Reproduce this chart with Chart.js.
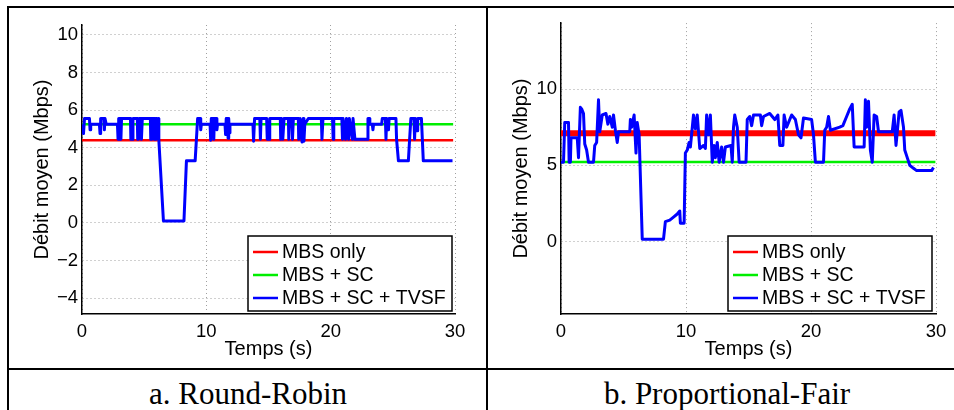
<!DOCTYPE html>
<html>
<head>
<meta charset="utf-8">
<script src="https://cdn.jsdelivr.net/npm/chart.js@4/dist/chart.umd.min.js"></script>
<style>
  html, body { margin: 0; padding: 0; background: #fff; overflow: hidden; }
  body { width: 954px; height: 410px; position: relative; }
  .rule { position: absolute; background: #000; }
  .box { position: absolute; }
  .cap { position: absolute; top: 376px; height: 31px; line-height: 31px; font: 31px "Liberation Serif", serif; color: #000; white-space: nowrap; text-align: center; }
</style>
</head>
<body>
<div class="rule" style="left:7px;top:6px;width:947px;height:2px"></div>
<div class="rule" style="left:7px;top:6px;width:2px;height:404px"></div>
<div class="rule" style="left:486px;top:6px;width:2px;height:404px"></div>
<div class="rule" style="left:7px;top:368px;width:947px;height:2px"></div>

<div class="box" style="left:9px;top:8px;width:476px;height:359px"><canvas id="rrChart"></canvas></div>
<div class="box" style="left:488px;top:8px;width:466px;height:359px"><canvas id="pfChart"></canvas></div>

<div class="cap" style="left:48px;width:400px">a. Round-Robin</div>
<div class="cap" style="left:527px;width:400px">b. Proportional-Fair</div>

<script>
// légendes et niveaux constants
const seriesLabels = ["MBS only", "MBS + SC", "MBS + SC + TVSF"];
const seriesColors = ["#ff0000", "#00ee00", "#0000ff"];

// a. Round-Robin
const rrFlatTime = [0, 29.85];
const rrMbsOnly = [4.4, 4.4];
const rrMbsSc = [5.25, 5.25];
const rrTime = [0, 0.08, 0.12, 0.2, 0.6, 0.65, 0.7, 1.4, 1.45, 1.5, 1.75, 1.8, 1.85, 1.9, 1.95,
  2.85, 2.9, 2.95, 3.1, 3.13, 3.18, 3.9, 3.93, 4.05, 4.1, 4.45, 4.48, 4.55, 4.6, 4.75, 4.78, 4.85,
  5.5, 5.53, 5.57, 5.62, 5.67, 5.8, 5.83, 5.88, 5.95, 6.0, 6.05, 6.12, 6.18, 6.55, 8.2, 8.4, 9.1,
  9.3, 9.5, 9.55, 9.6, 10.3, 10.35, 10.4, 10.55, 10.6, 10.65, 10.8, 10.85, 10.9, 11.5, 11.55, 11.6,
  11.65, 11.7, 11.75, 11.8, 11.85, 11.9, 13.75, 13.8, 13.88, 14.3, 14.35, 14.4, 14.85, 14.9, 15.05,
  15.1, 15.95, 15.98, 16.05, 16.15, 16.25, 16.6, 16.63, 16.7, 16.9, 16.93, 17.0, 17.4, 17.43, 17.55,
  17.7, 17.8, 17.85, 17.92, 18.2, 19.25, 19.3, 19.38, 20.15, 20.2, 20.25, 20.9, 20.95, 21.0, 21.2,
  21.27, 21.45, 21.5, 21.75, 21.8, 21.95, 22.95, 23.0, 23.1, 23.15, 23.35, 23.4, 23.45, 24.1, 24.15,
  24.4, 24.45, 24.5, 24.65, 24.7, 25.25, 25.3, 25.45, 26.25, 26.35, 26.45, 26.7, 26.75, 26.8, 26.95,
  27.0, 27.3, 27.45, 29.8];
const rrTvsf = [5.25, 5.25, 4.75, 5.55, 5.55, 4.95, 5.25, 5.25, 4.75, 5.55, 5.55, 4.95, 5.55, 5.55, 5.25,
  5.25, 4.45, 5.55, 5.55, 4.45, 5.55, 5.55, 4.45, 4.45, 5.55, 5.55, 4.45, 4.45, 5.55, 5.55, 4.45, 5.55,
  5.55, 4.45, 5.55, 4.45, 5.55, 5.55, 4.45, 5.55, 4.45, 5.55, 4.5, 5.55, 4.4, 0.1, 0.1, 3.3, 3.3,
  5.55, 5.55, 4.95, 5.25, 5.25, 4.4, 5.55, 5.55, 4.45, 5.55, 5.55, 4.95, 5.25, 5.25, 4.7, 5.55,
  4.7, 5.55, 4.5, 5.55, 4.8, 5.25, 5.25, 4.35, 5.55, 5.55, 4.45, 5.55, 5.55, 4.45, 4.45,
  5.55, 5.55, 4.45, 5.55, 4.45, 5.55, 5.55, 4.45, 5.55, 5.55, 4.45, 5.55, 5.55, 4.45, 5.55,
  4.3, 5.55, 4.35, 5.25, 5.55, 5.55, 4.45, 5.55, 5.55, 4.45, 5.55, 5.55, 4.45, 5.55, 4.45,
  5.55, 4.45, 5.55, 4.45, 5.55, 4.45, 4.45, 5.55, 5.55, 5.25, 5.25, 4.95, 5.25, 5.25, 5.55,
  5.55, 4.45, 5.55, 4.95, 5.55, 5.55, 4.45, 3.3, 3.3, 4.45, 5.55, 5.55, 4.45, 5.55, 4.9,
  5.55, 5.55, 3.3, 3.3];

// b. Proportional-Fair
const pfFlatTime = [0, 29.95];
const pfMbsOnly = [7.1, 7.1];
const pfMbsSc = [5.22, 5.22];
const pfTime = [0, 0.2, 0.3, 0.6, 0.65, 0.75, 0.8, 1.3, 1.4, 1.55, 1.65, 1.8, 1.9, 2.05, 2.2, 2.6,
  2.7, 2.85, 3.0, 3.1, 3.3, 3.6, 3.75, 3.9, 4.1, 4.2, 4.35, 4.5, 4.6, 5.5, 5.55, 5.65, 5.85, 6.0,
  6.1, 6.25, 6.5, 8.2, 8.35, 8.7, 9.0, 9.3, 9.5, 9.55, 9.85, 9.95, 10.1, 10.25, 10.35, 10.6, 10.75,
  10.9, 11.1, 11.4, 11.55, 11.65, 11.8, 11.95, 12.1, 12.25, 12.35, 12.5, 12.65, 12.85, 13.0, 13.15,
  13.6, 13.7, 13.8, 13.9, 14.1, 14.25, 14.8, 14.9, 15.1, 15.25, 15.4, 15.95, 16.05, 16.2, 16.7, 17.1,
  17.35, 17.5, 17.75, 17.85, 18.05, 18.45, 18.75, 19.0, 19.2, 19.4, 20.05, 20.2, 20.35, 21.0, 21.1,
  21.25, 21.4, 21.55, 22.3, 22.55, 22.85, 23.1, 23.3, 23.45, 24.25, 24.35, 24.45, 24.6, 24.75, 24.9,
  25.05, 25.25, 25.4, 26.5, 26.65, 26.8, 27.05, 27.2, 27.4, 27.5, 27.7, 27.9, 28.2, 28.45, 29.65, 29.8];
const pfTvsf = [5.2, 5.2, 7.8, 7.8, 5.2, 5.2, 6.8, 6.8, 5.5, 8.8, 8.7, 8.4, 6.4, 6.0, 5.2, 5.2,
  6.3, 6.5, 9.3, 7.2, 8.3, 8.4, 7.7, 8.2, 7.5, 8.3, 7.3, 6.5, 7.2, 7.2, 8.0, 7.5, 8.3, 5.8,
  7.8, 7.0, 0.15, 0.15, 1.3, 1.4, 1.6, 1.8, 2.0, 1.2, 1.2, 5.8, 6.0, 6.5, 6.2, 8.3, 7.4,
  8.3, 6.1, 6.3, 6.1, 8.3, 7.0, 8.3, 5.2, 6.3, 5.5, 6.5, 5.2, 6.2, 5.2, 6.2,
  6.3, 5.2, 7.5, 8.3, 7.5, 5.2, 5.2, 8.0, 8.2, 7.6, 8.3, 8.3, 7.6, 8.2, 8.4, 8.0,
  8.3, 6.3, 6.3, 8.3, 7.5, 8.3, 8.0, 7.0, 6.8, 8.1, 8.0, 7.0, 5.2, 5.2, 7.3,
  7.5, 8.2, 7.3, 7.5, 7.6, 8.2, 8.7, 9.0, 6.2, 6.2, 9.3, 7.5, 9.2, 6.0, 5.2,
  8.3, 8.2, 7.2, 7.2, 8.3, 6.3, 8.5, 8.6, 7.5, 6.0, 5.5, 5.0, 4.8, 4.65, 4.65, 4.85];

const toPoints = (xs, ys) => xs.map((x, i) => ({ x, y: ys[i] }));

// légende dessinée dans le coin bas-droit du graphe
const insideLegend = {
  id: "insideLegend",
  afterDatasetsDraw(chart, args, opts) {
    const { ctx, chartArea } = chart;
    const w = 204, h = 75;
    const x = chartArea.right - opts.right - w;
    const y = chartArea.bottom - 3 - h;
    ctx.save();
    ctx.fillStyle = "#fff";
    ctx.fillRect(x, y, w, h);
    ctx.strokeStyle = "#000";
    ctx.lineWidth = 1.5;
    ctx.strokeRect(x, y, w, h);
    ctx.font = '19.5px "Liberation Sans", Arial, sans-serif';
    ctx.textBaseline = "middle";
    chart.data.datasets.forEach((ds, i) => {
      const yy = y + 16 + i * 23;
      ctx.strokeStyle = ds.borderColor;
      ctx.lineWidth = 2.5;
      ctx.beginPath();
      ctx.moveTo(x + 5, yy);
      ctx.lineTo(x + 30, yy);
      ctx.stroke();
      ctx.fillStyle = "#000";
      ctx.fillText(ds.label, x + 34, yy + 1);
    });
    ctx.restore();
  }
};

function makeChart(id, d) {
  const font = { family: '"Liberation Sans", Arial, sans-serif', size: 18.5 };
  const titleFont = { family: '"Liberation Sans", Arial, sans-serif', size: 20 };
  const grid = { color: "#a0a0a0", lineWidth: 1, drawTicks: false };
  const border = { display: true, color: "#000", width: 1.5, dash: [1, 3] };
  return new Chart(document.getElementById(id), {
    type: "line",
    data: {
      datasets: [
        { label: seriesLabels[0], data: toPoints(d.flatTime, d.mbsOnly), borderColor: seriesColors[0], borderWidth: d.redWidth, order: 2 },
        { label: seriesLabels[1], data: toPoints(d.flatTime, d.mbsSc), borderColor: seriesColors[1], borderWidth: 2.5, order: 1 },
        { label: seriesLabels[2], data: toPoints(d.time, d.tvsf), borderColor: seriesColors[2], borderWidth: 3, order: 0 }
      ]
    },
    options: {
      responsive: true,
      maintainAspectRatio: false,
      animation: false,
      events: [],
      elements: { point: { radius: 0 }, line: { tension: 0, borderJoinStyle: "round" } },
      layout: { padding: { top: d.padTop, right: d.padRight, left: 0, bottom: 0 } },
      scales: {
        x: {
          type: "linear", min: 0, max: 30,
          ticks: { stepSize: 10, font, color: "#000", padding: 7, maxRotation: 0, includeBounds: false },
          grid, border,
          title: { display: true, text: "Temps (s)", font: titleFont, color: "#000", padding: { top: 0, bottom: 6 } },
          afterFit: s => { s.height = 53; }
        },
        y: {
          type: "linear", min: d.yMin, max: d.yMax,
          ticks: {
            stepSize: d.yStep, font, color: "#000", padding: 4, includeBounds: false,
            callback: v => String(v).replace("-", "\u2212")
          },
          grid, border,
          title: { display: true, text: "Débit moyen (Mbps)", font: titleFont, color: "#000", padding: { top: 21, bottom: 0 } },
          afterFit: s => { s.width = 73; }
        }
      },
      plugins: {
        legend: { display: false },
        tooltip: { enabled: false },
        insideLegend: { right: d.legendRight }
      }
    },
    plugins: [insideLegend]
  });
}

makeChart("rrChart", {
  flatTime: rrFlatTime, mbsOnly: rrMbsOnly, mbsSc: rrMbsSc, time: rrTime, tvsf: rrTvsf,
  yMin: -4.85, yMax: 10.53, yStep: 2, padTop: 17, padRight: 30, redWidth: 2.5, legendRight: 3
});
makeChart("pfChart", {
  flatTime: pfFlatTime, mbsOnly: pfMbsOnly, mbsSc: pfMbsSc, time: pfTime, tvsf: pfTvsf,
  yMin: -4.76, yMax: 14.33, yStep: 5, padTop: 15, padRight: 18, redWidth: 6, legendRight: 4
});
</script>
</body>
</html>
